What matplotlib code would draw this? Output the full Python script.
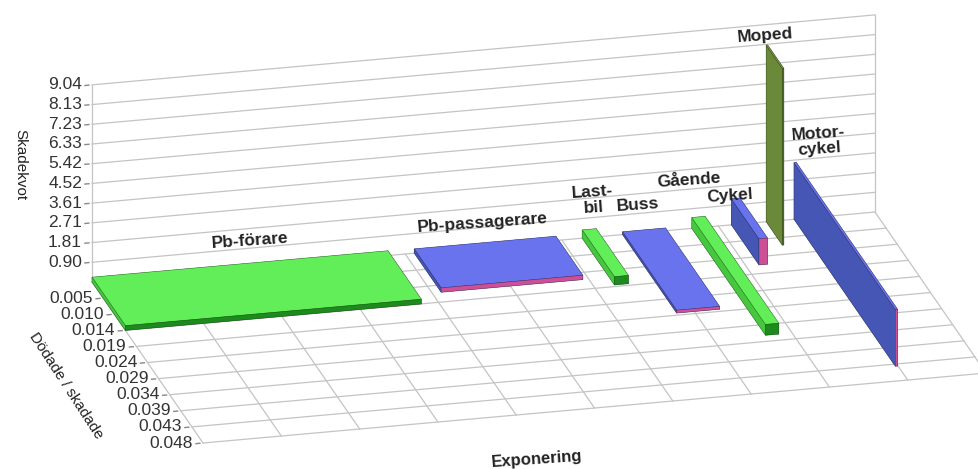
import numpy as np
import matplotlib
matplotlib.use("Agg")
import matplotlib.pyplot as plt
from mpl_toolkits.mplot3d import proj3d

# ---------------- data ----------------
categories = ["Pb-förare", "Pb-passagerare", "Last-\nbil", "Buss", "Gående",
              "Cykel", "Moped", "Motor-\ncykel"]
exposure = [37.8, 18.1, 1.8, 5.5, 1.7, 1.1, 0.2, 0.3]            # bar width (Exponering, % share)
death_ratio = [0.0145, 0.0117, 0.0140, 0.0235, 0.0320, 0.0120, 0.0070, 0.0440]  # Dödade / skadade
injury_rate = [0.22, 0.20, 0.38, 0.13, 0.50, 1.20, 8.10, 2.60]   # Skadekvot
series_kind = ["green", "blue", "green", "blue", "green", "blue", "olive", "blue"]

z_tick_labels = ["0.90", "1.81", "2.71", "3.61", "4.52", "5.42", "6.33", "7.23", "8.13", "9.04"]
y_tick_labels = ["0.005", "0.010", "0.014", "0.019", "0.024", "0.029", "0.034", "0.039", "0.043", "0.048"]

# ---------------- layout / style ----------------
GAP = 3.35
X_MAX = 100.0
Z_MAX = 9.04
Y_MAX = 0.0482
z_ticks = Z_MAX / 10 * np.arange(1, 11)
y_ticks = Y_MAX / 10 * np.arange(1, 11)
x_grid = np.arange(0, 101, 10)

label_dx = [1.3, -0.35, 0.5, -0.75, -1.25, -0.75, -0.2, 3.05]
label_dz = [1.0, 0.9, 1.33, 1.16, 1.7, 0.12, 0.46, 0.88]

face_colors = {
    # (top, front(+depth), left(-x), other)
    "green": ("#62ee58", "#1c8a1c", "#46c83e", "#3fb838"),
    "blue": ("#6a73ee", "#cc4f98", "#4656b4", "#5560c8"),
    "olive": ("#7e9c4a", "#58782c", "#6a8a3a", "#648434"),
}

GRID = "#c4c4c4"
TXT = "#222222"
plt.rcParams["font.family"] = ["Liberation Sans", "DejaVu Sans"]

W, H = 979, 469
fig = plt.figure(figsize=(W / 100, H / 100), dpi=100)
ax = fig.add_axes([0, 0, 1, 1], projection="3d", proj_type="ortho",
                  computed_zorder=False)
ax.view_init(elev=21.1, azim=-103.94)
ax.set_box_aspect((806.7, 460.8, 211.3))
ax.set_xlim(0, X_MAX)
ax.set_ylim(Y_MAX, 0)
ax.set_zlim(0, Z_MAX)
ax.set_axis_off()

# ---------------- walls & floor grid ----------------
for z in z_ticks:
    ax.plot([0, X_MAX], [0, 0], [z, z], color=GRID, lw=0.9, zorder=1)
    ax.plot([-0.9, -0.4], [0, 0], [z, z], color="#888888", lw=1.0, zorder=1)
ax.plot([0, 0], [0, 0], [0, Z_MAX], color=GRID, lw=0.9, zorder=1)
ax.plot([X_MAX, X_MAX], [0, 0], [0, Z_MAX], color=GRID, lw=0.9, zorder=1)
for d in np.concatenate([[0], y_ticks]):
    ax.plot([0, X_MAX], [d, d], [0, 0], color=GRID, lw=0.9, zorder=1)
for d in y_ticks:
    ax.plot([-0.9, -0.4], [d, d], [0, 0], color="#888888", lw=1.0, zorder=1)
for xg in x_grid:
    ax.plot([xg, xg], [0, Y_MAX], [0, 0], color=GRID, lw=0.9, zorder=1)

# ---------------- bars ----------------
x_start = np.concatenate([[0], np.cumsum(np.array(exposure[:-1]) + GAP)])
n = len(categories)
for i in range(n):
    top, front, left, other = face_colors[series_kind[i]]
    # face order in bar3d: -z, +z, -y, +y, -x, +x
    fc = [other, top, other, front, left, other]
    ax.bar3d(x_start[i], 0, 0, exposure[i], death_ratio[i], injury_rate[i],
             color=fc, shade=False, edgecolor=(0, 0, 0, 0.35), linewidth=0.4,
             zorder=10 + (n - i))

# ---------------- align projection to the reference frame ----------------
fig.canvas.draw()


def to_px(x, y, z):
    xs, ys, _ = proj3d.proj_transform(x, y, z, ax.M)
    return np.array(ax.transData.transform((xs, ys)))


pO = to_px(0, 0, 0)
pX = to_px(X_MAX, 0, 0)
tO = np.array([92.0, H - 282.0])
tX = np.array([875.0, H - 212.0])
s = np.linalg.norm(tX - tO) / np.linalg.norm(pX - pO)
bb = ax.get_position()
c = np.array([(bb.x0 + bb.width / 2) * W, (bb.y0 + bb.height / 2) * H])
side = bb.width * W * s
new_c = tO - s * (pO - c)
ax.set_position([(new_c[0] - side / 2) / W, (new_c[1] - side / 2) / H,
                 side / W, side / H])
fig.canvas.draw()


def fig_text_at(x, y, z, text, dx_px=0.0, **kw):
    p = to_px(x, y, z)
    return fig.text((p[0] + dx_px) / W, p[1] / H, text, **kw)


# tick labels (placed at projected data positions)
for z, lab in zip(z_ticks, z_tick_labels):
    fig_text_at(0, 0, z, lab, dx_px=-10, ha="right", va="center",
                fontsize=12.5, color="#333333")
for d, lab in zip(y_ticks, y_tick_labels):
    fig_text_at(0, d, 0, lab, dx_px=-10, ha="right", va="center",
                fontsize=12.5, color="#333333")

# category labels
for i in range(n):
    xc = x_start[i] + exposure[i] / 2 + label_dx[i]
    fig_text_at(xc, 0, injury_rate[i] + label_dz[i], categories[i],
                ha="center", va="center", fontsize=12.5, fontweight="bold",
                color=TXT, rotation=4, multialignment="center",
                linespacing=1.05, rotation_mode="anchor")

# ---------------- axis titles ----------------
fig.text(20 / W, 1 - 165 / H, "Skadekvot", rotation=-90, ha="center",
         va="center", fontsize=11, color=TXT)
fig.text(66 / W, 1 - 386 / H, "Dödade / skadade", rotation=-57, ha="center",
         va="center", fontsize=11, color=TXT)
fig.text(537 / W, 1 - 459 / H, "Exponering", rotation=4, ha="center",
         va="center", fontsize=12, fontweight="bold", color=TXT)

fig.savefig("out.png", dpi=100)
